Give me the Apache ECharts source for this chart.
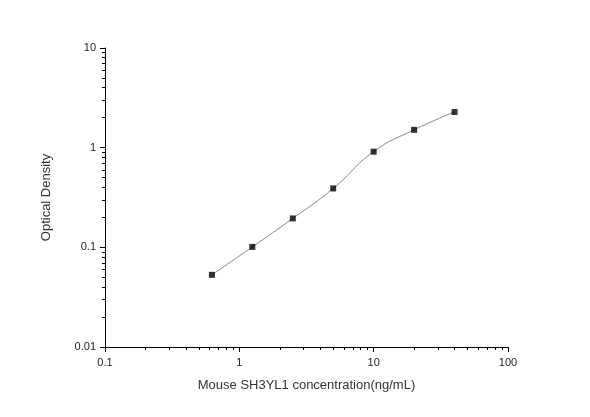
<!DOCTYPE html>
<html>
<head>
<meta charset="utf-8">
<script src="https://cdn.jsdelivr.net/npm/echarts@6/dist/echarts.min.js"></script>
<style>html,body{margin:0;padding:0;background:#fff;}#c{width:590px;height:417px;}</style>
</head>
<body>
<div id="c"></div>
<script>
var concentrations = [0.625, 1.25, 2.5, 5, 10, 20, 40];
var odValues = [0.053, 0.101, 0.195, 0.39, 0.912, 1.51, 2.28];
var xTickLabels = [0.1, 1, 10, 100];
var yTickLabels = [0.01, 0.1, 1, 10];
var xMinorTicks = [0.2,0.3,0.4,0.5,0.6,0.7,0.8,0.9,2,3,4,5,6,7,8,9,20,30,40,50,60,70,80,90];
var yMinorTicks = [0.02,0.03,0.04,0.05,0.06,0.07,0.08,0.09,0.2,0.3,0.4,0.5,0.6,0.7,0.8,0.9,2,3,4,5,6,7,8,9];

var chart = echarts.init(document.getElementById('c'), null, {renderer: 'canvas'});
var font = '"Liberation Sans", Arial, sans-serif';
var pts = concentrations.map(function (x, i) { return [x, odValues[i]]; });
function lg(v) { return Math.log10(v); }

chart.setOption({
  animation: false,
  backgroundColor: '#fff',
  grid: {left: 105, right: 82, top: 48, bottom: 70, containLabel: false},
  xAxis: [{
    type: 'log', logBase: 10, min: xTickLabels[0], max: xTickLabels[xTickLabels.length - 1],
    position: 'bottom',
    name: 'Mouse SH3YL1 concentration(ng/mL)', nameLocation: 'middle', nameGap: 32,
    nameTextStyle: {fontFamily: font, fontSize: 13, color: '#333'},
    axisLine: {show: true, onZero: false, lineStyle: {color: '#000', width: 1}},
    axisTick: {show: false},
    axisLabel: {fontFamily: font, fontSize: 11, color: '#222', margin: 10,
      customValues: xTickLabels, formatter: function (v) { return String(v); }},
    splitLine: {show: false}, minorTick: {show: false}
  }, {
    type: 'value', min: lg(xTickLabels[0]), max: lg(xTickLabels[xTickLabels.length - 1]),
    position: 'bottom', show: true,
    axisLine: {show: false, onZero: false}, axisLabel: {show: false}, splitLine: {show: false},
    axisTick: {show: true, length: 3, lineStyle: {color: '#000'},
      customValues: xMinorTicks.map(lg)}
  }, {
    type: 'value', min: lg(xTickLabels[0]), max: lg(xTickLabels[xTickLabels.length - 1]),
    position: 'bottom', show: true,
    axisLine: {show: false, onZero: false}, axisLabel: {show: false}, splitLine: {show: false},
    axisTick: {show: true, length: 5, lineStyle: {color: '#000'},
      customValues: xTickLabels.map(lg)}
  }],
  yAxis: [{
    type: 'log', logBase: 10, min: yTickLabels[0], max: yTickLabels[yTickLabels.length - 1],
    position: 'left',
    name: 'Optical Density', nameLocation: 'middle', nameGap: 52,
    nameTextStyle: {fontFamily: font, fontSize: 13, color: '#333'},
    axisLine: {show: true, onZero: false, lineStyle: {color: '#000', width: 1}},
    axisTick: {show: false},
    axisLabel: {fontFamily: font, fontSize: 11, color: '#222', margin: 9,
      customValues: yTickLabels, formatter: function (v) { return String(v); }},
    splitLine: {show: false}, minorTick: {show: false}
  }, {
    type: 'value', min: lg(yTickLabels[0]), max: lg(yTickLabels[yTickLabels.length - 1]),
    position: 'left', show: true,
    axisLine: {show: false, onZero: false}, axisLabel: {show: false}, splitLine: {show: false},
    axisTick: {show: true, length: 3, lineStyle: {color: '#000'},
      customValues: yMinorTicks.map(lg)}
  }, {
    type: 'value', min: lg(yTickLabels[0]), max: lg(yTickLabels[yTickLabels.length - 1]),
    position: 'left', show: true,
    axisLine: {show: false, onZero: false}, axisLabel: {show: false}, splitLine: {show: false},
    axisTick: {show: true, length: 5, lineStyle: {color: '#000'},
      customValues: yTickLabels.map(lg)}
  }],
  series: [{
    type: 'line', xAxisIndex: 0, yAxisIndex: 0, data: pts, smooth: 0.5,
    symbol: 'none', lineStyle: {color: '#8a8a8a', width: 1}, z: 2
  }, {
    type: 'scatter', xAxisIndex: 0, yAxisIndex: 0, data: pts,
    symbol: 'rect', symbolSize: 6, itemStyle: {color: '#000'}, z: 3
  }]
});
</script>
</body>
</html>
